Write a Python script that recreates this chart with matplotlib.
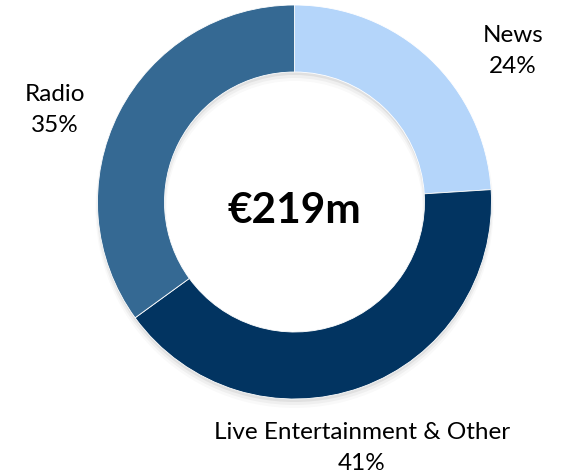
import matplotlib
matplotlib.use("Agg")
import matplotlib.pyplot as plt

plt.rcParams["font.family"] = ["Lato", "DejaVu Sans"]

segments = ["News", "Live Entertainment & Other", "Radio"]
shares = [24, 41, 35]
colors = ["#B4D5FA", "#023461", "#356993"]
total_label = "€219m"

W, H = 570, 476
fig = plt.figure(figsize=(W / 100, H / 100), dpi=100)
ax = fig.add_axes([0, 0, 1, 1])
ax.set_aspect("equal")

cx, cy, r_out = 294.5, H - 202, 197
ring = r_out - 130

# soft shadow, shifted down so it only shows under the ring
for k, a in enumerate([0.06, 0.04, 0.025]):
    ax.pie([1], radius=r_out + k, center=(cx, cy - 3 - 2 * k),
           colors=["#000000"], startangle=90,
           wedgeprops=dict(width=ring + 2 * k, alpha=a, linewidth=0),
           frame=True)

ax.pie(shares, radius=r_out, center=(cx, cy), colors=colors,
       startangle=90, counterclock=False,
       wedgeprops=dict(width=ring, edgecolor="white", linewidth=0.6),
       frame=True)
ax.set_xlim(0, W)
ax.set_ylim(0, H)
ax.axis("off")

ax.text(cx, H - 211, total_label, ha="center", va="center",
        fontsize=30.5, fontweight="bold", color="black")

label_pos = {
    "News": (513, 51),
    "Live Entertainment & Other": (362, 448),
    "Radio": (55, 110),
}
for name, val in zip(segments, shares):
    x, y = label_pos[name]
    ax.text(x, H - y, f"{name}\n{val}%", ha="center", va="center",
            fontsize=17.5, linespacing=1.6, color="black")

fig.savefig("out.png", dpi=100)
